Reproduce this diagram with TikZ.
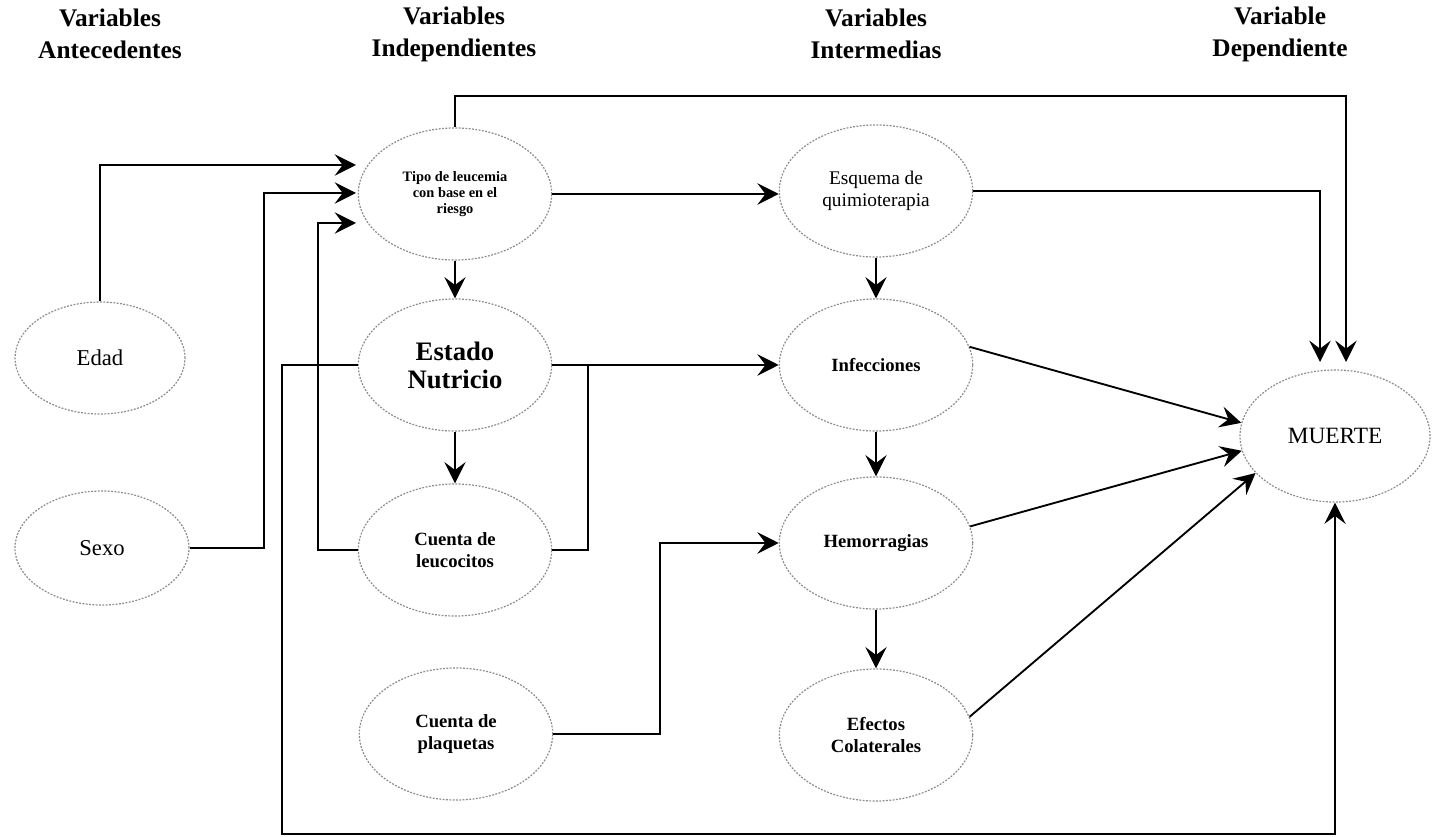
\documentclass[tikz,border=0pt]{standalone}
\usepackage{fontspec}
\setmainfont{Liberation Serif}
\usetikzlibrary{arrows.meta,shapes.geometric,calc}
\begin{document}
\begin{tikzpicture}[x=0.75pt,y=-0.75pt,
  ell/.style={ellipse, draw=black!45, line width=0.9pt, dash pattern=on 1.4pt off 1.1pt, inner sep=0pt, align=center},
  big/.style={ell, minimum width=145pt, minimum height=99pt},
  bsf/.style={font=\fontsize{14}{16.5}\selectfont\bfseries},
  conn/.style={line width=1.4pt, black},
  arr/.style={conn, -{Stealth[length=16pt,width=16pt,inset=6pt]}},
  hdr/.style={font=\fontsize{19}{24}\selectfont\bfseries, align=center, inner sep=0pt},
]
\useasboundingbox (0,0) rectangle (1438,837);
\fill[white] (0,0) rectangle (1438,837);

% headers
\node[hdr] (h1) at (110,34) {Variables\\Antecedentes};
\node[hdr] (h2) at (454,34) {Variables\\Independientes};
\node[hdr] (h3) at (876,34) {Variables\\Intermedias};
\node[hdr] (h4) at (1280,34) {Variable\\Dependiente};

% nodes
\node[ell, minimum width=127.5pt, minimum height=84pt, font=\fontsize{17}{20}\selectfont] (Edad) at (100,358) {Edad};
\node[ell, minimum width=130.5pt, minimum height=85.5pt, font=\fontsize{17}{20}\selectfont] (Sexo) at (102,548) {Sexo};
\node[big, font=\fontsize{10.8}{12}\selectfont\bfseries] (T) at (455,194) {Tipo de leucemia\\con base en el\\riesgo};
\node[big, font=\fontsize{20}{21}\selectfont\bfseries] (EN) at (455,365) {Estado\\Nutricio};
\node[big, bsf] (CL) at (455,550) {Cuenta de\\leucocitos};
\node[big, bsf] (CP) at (456,734) {Cuenta de\\plaquetas};
\node[big, font=\fontsize{14.5}{17}\selectfont] (EQ) at (876,191) {Esquema de\\quimioterapia};
\node[big, bsf] (IN) at (876,365) {Infecciones};
\node[big, bsf] (HE) at (876,543) {Hemorragias};
\node[big, bsf] (EF) at (876,735) {Efectos\\Colaterales};
\node[ell, minimum width=142.5pt, minimum height=99pt, font=\fontsize{17.5}{20}\selectfont] (M) at (1335,436) {MUERTE};

% free ends
\coordinate (t1) at (356,165);
\coordinate (t2) at (356,193);
\coordinate (t3) at (356,223);
\coordinate (mA) at (1320,362);
\coordinate (mB) at (1346,362);
\coordinate (tc) at (1346,96);
\coordinate (b1) at (282,834);
\coordinate (j1) at ($(EN.east)+(36,0)$);

% connectors into Tipo
\draw[arr] (Edad.north) |- (t1);
\draw[arr] (Sexo.east) -- ++(74,0) |- (t2);
\draw[arr] (CL.west) -- ++(-40,0) |- (t3);

% vertical arrows
\draw[arr] (T.south) -- (EN.north);
\draw[arr] (EN.south) -- (CL.north);
\draw[arr] (EQ.south) -- (IN.north);
\draw[arr] (IN.south) -- (HE.north);
\draw[arr] (HE.south) -- (EF.north);

% horizontal arrows
\draw[arr] (T.east) -- (T.east -| EQ.west);
\draw[arr] (EN.east) -- (EN.east -| IN.west);
\draw[conn] (CL.east) -| (j1);
\draw[arr] (CP.east) -- ++(107,0) |- (HE.west);

% to MUERTE
\draw[arr] (T.north) |- (tc) -- (mB);
\draw[arr] (EQ.east) -| (mA);
\draw[arr] (IN.11) -- (M.172);
\draw[arr] (HE.10) -- (M.189);
\draw[arr] (EF.11) -- (M.205);
\draw[arr] (EN.west) -| (b1) -| (M.south);
\end{tikzpicture}
\end{document}
